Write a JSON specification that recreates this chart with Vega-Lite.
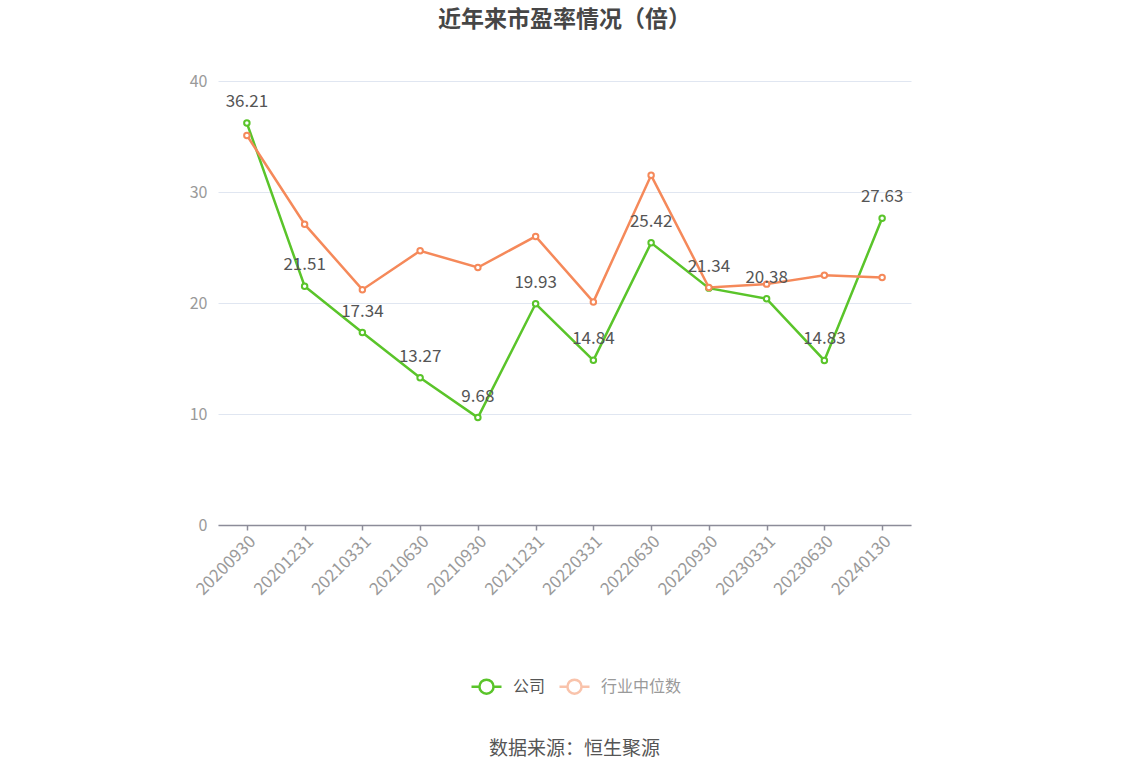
{
  "$schema": "https://vega.github.io/schema/vega-lite/v6.json",
  "description": "近年来市盈率情况（倍）",
  "autosize": {"type": "none"},
  "width": 693,
  "height": 444,
  "padding": {"left": 218, "top": 81, "right": 237, "bottom": 251},
  "title": {
    "text": "近年来市盈率情况（倍）",
    "font": "Noto Sans CJK SC",
    "fontSize": 23,
    "fontWeight": "bold",
    "color": "#464646",
    "anchor": "middle",
    "offset": 41
  },
  "config": {
    "view": {"stroke": null},
    "font": "Noto Sans CJK SC"
  },
  "data": {
    "values": [
      {"date": "20200930", "series": "公司", "pe": 36.21},
      {"date": "20201231", "series": "公司", "pe": 21.51},
      {"date": "20210331", "series": "公司", "pe": 17.34},
      {"date": "20210630", "series": "公司", "pe": 13.27},
      {"date": "20210930", "series": "公司", "pe": 9.68},
      {"date": "20211231", "series": "公司", "pe": 19.93},
      {"date": "20220331", "series": "公司", "pe": 14.84},
      {"date": "20220630", "series": "公司", "pe": 25.42},
      {"date": "20220930", "series": "公司", "pe": 21.34},
      {"date": "20230331", "series": "公司", "pe": 20.38},
      {"date": "20230630", "series": "公司", "pe": 14.83},
      {"date": "20240130", "series": "公司", "pe": 27.63},
      {"date": "20200930", "series": "行业中位数", "pe": 35.1},
      {"date": "20201231", "series": "行业中位数", "pe": 27.1},
      {"date": "20210331", "series": "行业中位数", "pe": 21.2},
      {"date": "20210630", "series": "行业中位数", "pe": 24.7},
      {"date": "20210930", "series": "行业中位数", "pe": 23.2},
      {"date": "20211231", "series": "行业中位数", "pe": 26.0},
      {"date": "20220331", "series": "行业中位数", "pe": 20.1},
      {"date": "20220630", "series": "行业中位数", "pe": 31.5},
      {"date": "20220930", "series": "行业中位数", "pe": 21.4},
      {"date": "20230331", "series": "行业中位数", "pe": 21.7},
      {"date": "20230630", "series": "行业中位数", "pe": 22.5},
      {"date": "20240130", "series": "行业中位数", "pe": 22.3}
    ]
  },
  "encoding": {
    "x": {
      "field": "date",
      "type": "ordinal",
      "sort": null,
      "scale": {"type": "point", "padding": 0.5},
      "axis": {
        "title": "数据来源：恒生聚源",
        "titleFont": "Noto Sans CJK SC",
        "titleFontSize": 19,
        "titleFontWeight": "normal",
        "titleColor": "#555555",
        "titleX": 356,
        "titleY": 223,
        "titleAnchor": null,
        "titleAlign": "center",
        "titleBaseline": "middle",
        "labelAngle": -45,
        "labelFontSize": 17,
        "labelColor": "#9a9a9a",
        "labelPadding": 3,
        "domainColor": "#8c8c99",
        "domainWidth": 1.5,
        "tickColor": "#8c8c99",
        "tickWidth": 1.5,
        "tickSize": 5,
        "grid": false
      }
    },
    "y": {
      "field": "pe",
      "type": "quantitative",
      "scale": {"domain": [0, 40]},
      "axis": {
        "title": null,
        "values": [0, 10, 20, 30, 40],
        "labelFontSize": 16,
        "labelColor": "#9a9a9a",
        "labelPadding": 11,
        "domain": false,
        "ticks": false,
        "gridColor": "#e0e6f1",
        "gridWidth": 1
      }
    },
    "color": {
      "field": "series",
      "type": "nominal",
      "sort": ["公司", "行业中位数"],
      "scale": {"domain": ["公司", "行业中位数"], "range": ["#5ac42a", "#f5895a"]},
      "legend": {
        "title": null,
        "orient": "none",
        "direction": "horizontal",
        "legendX": 252,
        "legendY": 589,
        "symbolType": "M-1,0L-0.47,0M0.47,0L1,0M0.47,0A0.47,0.47,0,1,1,-0.47,0A0.47,0.47,0,1,1,0.47,0",
        "symbolSize": 900,
        "symbolStrokeWidth": 2.5,
        "symbolFillColor": "#ffffff",
        "labelFontSize": 16,
        "labelOffset": 10,
        "columnPadding": 8,
        "encode": {
          "symbols": {
            "update": {
              "fill": {"value": "#ffffff"},
              "fillOpacity": {"value": 1},
              "opacity": {"signal": "datum.value === '公司' ? 1 : 0.5"}
            }
          },
          "labels": {
            "update": {
              "fill": {"signal": "datum.value === '公司' ? '#555555' : '#9a9a9a'"}
            }
          }
        }
      }
    }
  },
  "layer": [
    {
      "mark": {"type": "line", "strokeWidth": 2.5},
      "encoding": {"detail": {"field": "series"}}
    },
    {
      "mark": {"type": "point", "shape": "circle", "filled": false, "fill": "#ffffff", "fillOpacity": 1, "size": 30, "strokeWidth": 2, "opacity": 1}
    },
    {
      "transform": [{"filter": "datum.series === '公司'"}],
      "mark": {"type": "text", "dy": -21, "fontSize": 17},
      "encoding": {
        "text": {"field": "pe", "type": "quantitative", "format": ".2f"},
        "color": {"value": "#555555"}
      }
    }
  ]
}
